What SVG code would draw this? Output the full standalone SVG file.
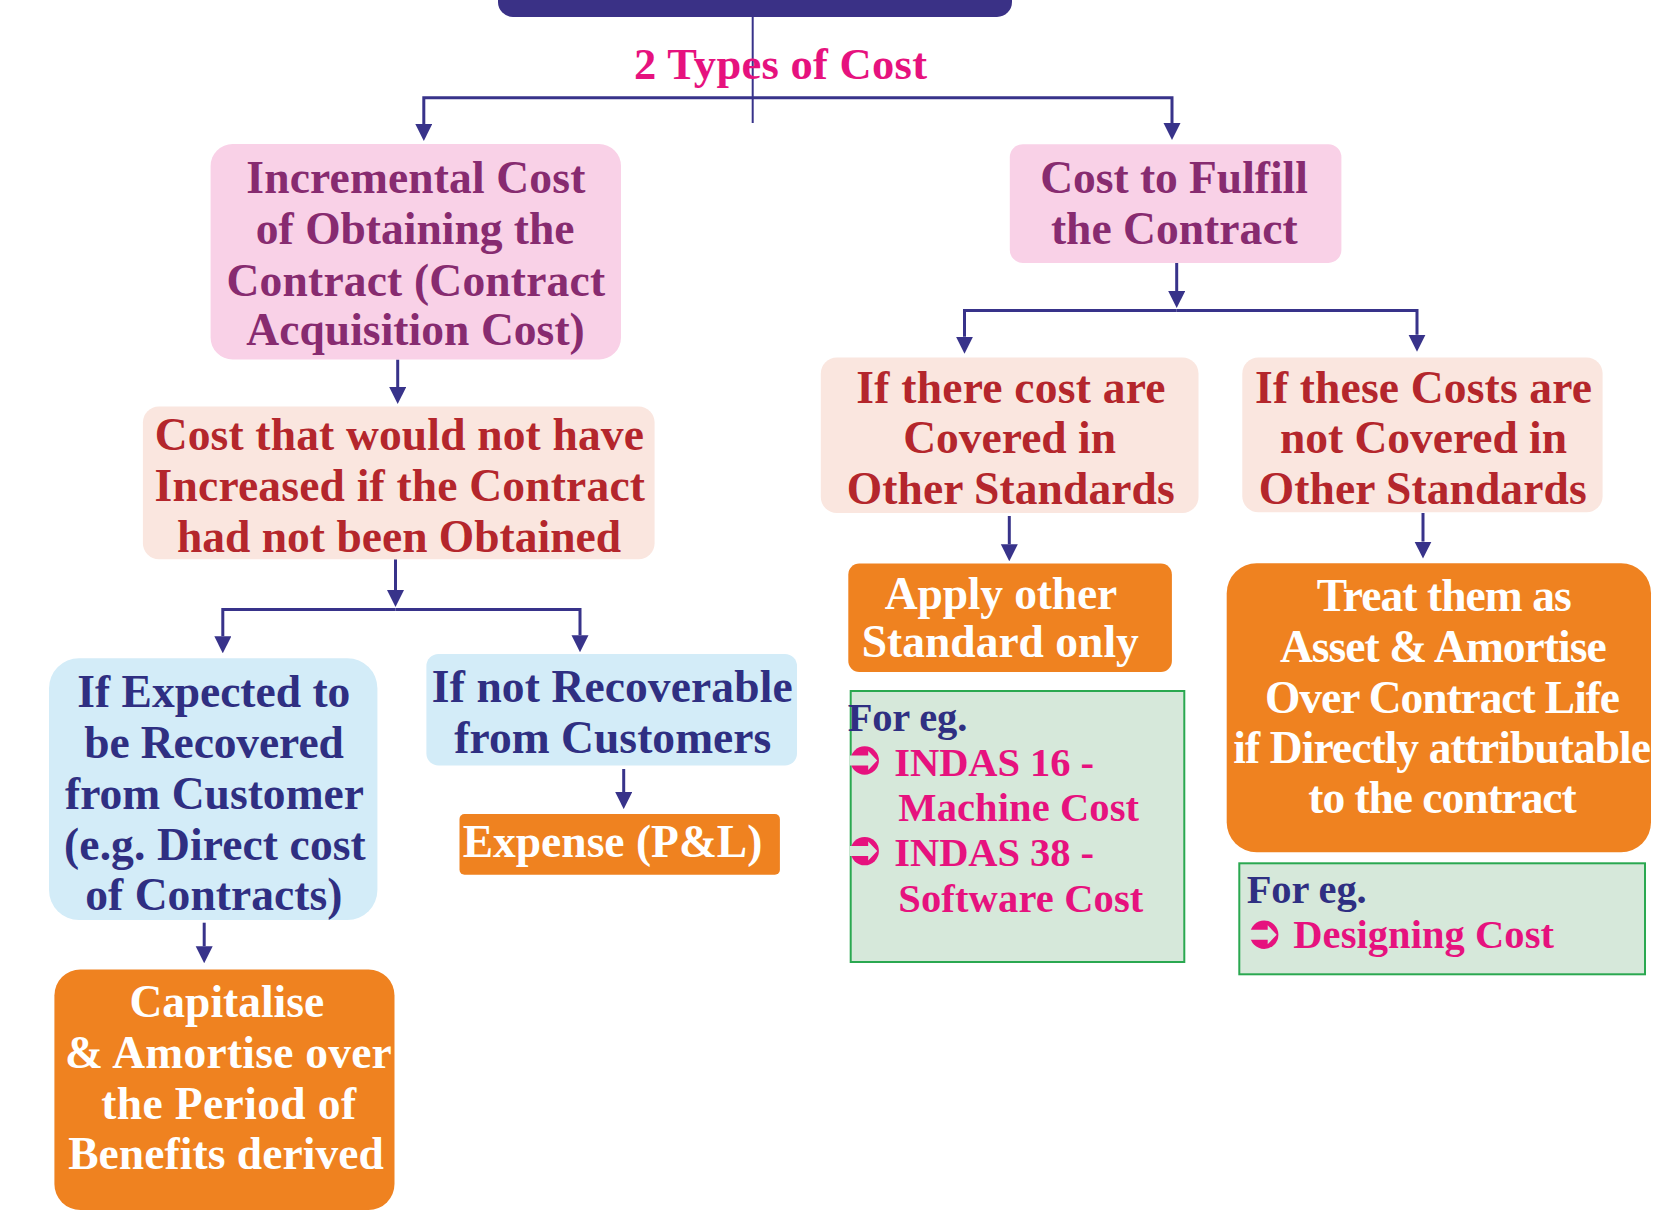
<svg xmlns="http://www.w3.org/2000/svg" width="1671" height="1211" viewBox="0 0 1671 1211">
<style>
text{font-family:"Liberation Serif","Times New Roman",serif;font-weight:bold;font-size:45.5px;text-anchor:middle}
.pink{fill:#f9d1e7}
.peach{fill:#fae6df}
.blue{fill:#d3ecf8}
.orange{fill:#ef8220}
.green{fill:#d6e8da;stroke:#2aa850;stroke-width:2}
.tp{fill:#872b70}
.tr{fill:#b4262c}
.tn{fill:#2f2f82}
.tw{fill:#ffffff}
.tm{fill:#e6127e}
.eg{font-size:40.5px;text-anchor:start}
.conn path{fill:none;stroke:#38338a;stroke-width:3}
</style>
<defs>
<marker id="ah" markerUnits="userSpaceOnUse" markerWidth="17" markerHeight="18" refX="0" refY="8.5" orient="auto">
<path d="M0,0 L17,8.5 L0,17 z" fill="#38338a"/>
</marker>
<g id="bullet">
<circle cx="0" cy="0" r="14.2" fill="#e6127e"/>
<path d="M-15,-5 H3.5 V-9.5 L12.5,0 L3.5,9.5 V5 H-15 z" fill="#d6e8da"/>
</g>
</defs>

<g id="title">
<rect x="498" y="-30" width="514" height="47" rx="15" fill="#3a3186"/>
</g>

<g class="conn" id="connectors">
<path d="M752.7,17 V123" style="stroke-width:2"/>
<path d="M752.7,97.8 H423.8 V124" marker-end="url(#ah)"/>
<path d="M752.7,97.8 H1172 V123" marker-end="url(#ah)"/>
<path d="M397.7,359.5 V387" marker-end="url(#ah)"/>
<path d="M395.5,559.3 V590" marker-end="url(#ah)"/>
<path d="M395.5,609.6 H222.8 V636.3" marker-end="url(#ah)"/>
<path d="M395.5,609.6 H580 V635.2" marker-end="url(#ah)"/>
<path d="M204.2,922.7 V946.3" marker-end="url(#ah)"/>
<path d="M623.7,769 V792.1" marker-end="url(#ah)"/>
<path d="M1176.7,262.9 V291" marker-end="url(#ah)"/>
<path d="M1176.7,310.4 H964.5 V336.7" marker-end="url(#ah)"/>
<path d="M1176.7,310.4 H1417 V334.8" marker-end="url(#ah)"/>
<path d="M1009.3,516 V544.3" marker-end="url(#ah)"/>
<path d="M1423,513 V541.6" marker-end="url(#ah)"/>
</g>

<g id="types-label">
<text x="780.5" y="79" class="tm" style="font-size:44.5px" textLength="293">2 Types of Cost</text>
</g>

<g id="incremental">
<rect x="210.6" y="144" width="410.4" height="215.5" rx="22" class="pink"/>
<text x="415.8" y="193.3" class="tp" textLength="339">Incremental Cost</text>
<text x="415.2" y="244.3" class="tp" textLength="318.7">of Obtaining the</text>
<text x="415.8" y="295.7" class="tp" textLength="378.5">Contract (Contract</text>
<text x="415.5" y="345.2" class="tp" textLength="338.5">Acquisition Cost)</text>
</g>

<g id="not-increased">
<rect x="142.9" y="406.6" width="511.7" height="152.7" rx="16" class="peach"/>
<text x="399.3" y="450.3" class="tr" textLength="489.3">Cost that would not have</text>
<text x="399.8" y="501.4" class="tr" textLength="490.4">Increased if the Contract</text>
<text x="399" y="552" class="tr" textLength="444">had not been Obtained</text>
</g>

<g id="expected">
<rect x="49" y="658.3" width="328.4" height="261.7" rx="30" class="blue"/>
<text x="213.8" y="707.4" class="tn" textLength="273">If Expected to</text>
<text x="214" y="757.7" class="tn" textLength="259.6">be Recovered</text>
<text x="214.5" y="808.7" class="tn" textLength="299">from Customer</text>
<text x="214.9" y="860" class="tn" textLength="301.7">(e.g. Direct cost</text>
<text x="213.8" y="910.4" class="tn" textLength="257">of Contracts)</text>
</g>

<g id="not-recoverable">
<rect x="426.4" y="654" width="370.6" height="111.4" rx="12" class="blue"/>
<text x="612.2" y="701.6" class="tn" textLength="360.8">If not Recoverable</text>
<text x="612.8" y="753" class="tn" textLength="317">from Customers</text>
</g>

<g id="expense">
<rect x="459.5" y="814" width="320.4" height="60.8" rx="5" class="orange"/>
<text x="612.5" y="857" class="tw" textLength="299.6">Expense (P&amp;L)</text>
</g>

<g id="capitalise">
<rect x="54.4" y="969.5" width="340.1" height="240.5" rx="26" class="orange"/>
<text x="226.8" y="1016.7" class="tw" textLength="194.6">Capitalise</text>
<text x="228.4" y="1067.7" class="tw" textLength="326.8">&amp; Amortise over</text>
<text x="228.7" y="1119.1" class="tw" textLength="254.8">the Period of</text>
<text x="226" y="1169.4" class="tw" textLength="315.6">Benefits derived</text>
</g>

<g id="fulfill">
<rect x="1009.8" y="144.2" width="331.6" height="118.7" rx="13" class="pink"/>
<text x="1174" y="193.3" class="tp" textLength="267.6">Cost to Fulfill</text>
<text x="1174.3" y="244.3" class="tp" textLength="246.8">the Contract</text>
</g>

<g id="covered">
<rect x="820.8" y="357.6" width="377.7" height="155.4" rx="16" class="peach"/>
<text x="1010.9" y="403.2" class="tr" textLength="309.2">If there cost are</text>
<text x="1009.6" y="453.4" class="tr" textLength="212.7">Covered in</text>
<text x="1010.7" y="504.4" class="tr" textLength="327.9">Other Standards</text>
</g>

<g id="not-covered">
<rect x="1242.3" y="357.6" width="360.3" height="154.6" rx="16" class="peach"/>
<text x="1423.5" y="403.2" class="tr" textLength="337">If these Costs are</text>
<text x="1423.5" y="453.4" class="tr" textLength="286.9">not Covered in</text>
<text x="1422.7" y="504.4" class="tr" textLength="327.8">Other Standards</text>
</g>

<g id="apply-other">
<rect x="848.3" y="563.6" width="323.6" height="108.3" rx="11" class="orange"/>
<text x="1001" y="608.7" class="tw" textLength="232.4">Apply other</text>
<text x="1000.3" y="657.2" class="tw" textLength="277">Standard only</text>
</g>

<g id="treat-asset">
<rect x="1226.7" y="563.3" width="424.3" height="289" rx="30" class="orange"/>
<text x="1444.2" y="610.7" class="tw" textLength="255">Treat them as</text>
<text x="1443.3" y="661.7" class="tw" textLength="326.7">Asset &amp; Amortise</text>
<text x="1442.5" y="712.7" class="tw" textLength="355">Over Contract Life</text>
<text x="1442.2" y="762.7" class="tw" textLength="417.7">if Directly attributable</text>
<text x="1442.5" y="813.3" class="tw" textLength="268.3">to the contract</text>
</g>

<g id="example-standards">
<rect x="850.7" y="691" width="333.6" height="271" class="green"/>
<text x="847.7" y="730.7" class="tn eg" textLength="119.6">For eg.</text>
<use href="#bullet" x="864.7" y="760.5"/>
<text x="894.3" y="775.7" class="tm eg" textLength="199.7">INDAS 16 -</text>
<text x="898.3" y="820.7" class="tm eg" textLength="240.7">Machine Cost</text>
<use href="#bullet" x="864.7" y="851.1"/>
<text x="894.3" y="866" class="tm eg" textLength="199.7">INDAS 38 -</text>
<text x="898.3" y="912.3" class="tm eg" textLength="245">Software Cost</text>
</g>

<g id="example-designing">
<rect x="1239.3" y="863.3" width="405.7" height="111" class="green"/>
<text x="1246.7" y="902.7" class="tn eg" textLength="120">For eg.</text>
<use href="#bullet" x="1264.2" y="934.7"/>
<text x="1293.3" y="948.3" class="tm eg" textLength="260.7">Designing Cost</text>
</g>
</svg>
